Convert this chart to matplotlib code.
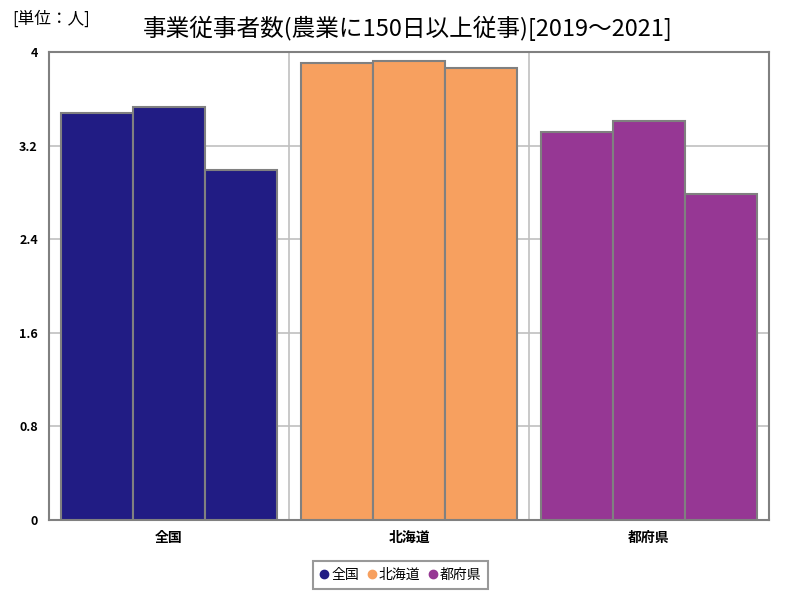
import numpy as np
import matplotlib
matplotlib.use('Agg')
import matplotlib.pyplot as plt
from matplotlib.lines import Line2D

plt.rcParams['font.family'] = ['Noto Sans CJK JP', 'DejaVu Sans']

# データ（2019, 2020, 2021）
categories = ['全国', '北海道', '都府県']
years = ['2019', '2020', '2021']
values = [
    [3.48, 3.53, 2.99],   # 全国
    [3.91, 3.92, 3.86],   # 北海道
    [3.32, 3.41, 2.79],   # 都府県
]
colors = ['#211C84', '#F7A05F', '#963794']
yticks = [0, 0.8, 1.6, 2.4, 3.2, 4]
ytick_labels = ['0', '0.8', '1.6', '2.4', '3.2', '4']

fig = plt.figure(figsize=(8, 6), dpi=100)
ax = fig.add_axes([0.06125, 0.1333, 0.9, 0.78])

bar_w = 0.3
for i, (cat, vals) in enumerate(zip(categories, values)):
    x = i + (np.arange(len(years)) - 1) * bar_w
    ax.bar(x, vals, width=bar_w, color=colors[i], edgecolor='#808080',
           linewidth=1.5, zorder=3)

ax.set_xlim(-0.5, 2.5)
ax.set_ylim(0, 4)
ax.set_yticks(yticks)
ax.set_yticklabels(ytick_labels, fontsize=9, fontweight='bold')
ax.set_xticks(range(len(categories)))
ax.set_xticklabels(categories, fontsize=10, fontweight='bold')
ax.tick_params(length=0, pad=8)

# グリッド
ax.set_xticks([0.5, 1.5], minor=True)
ax.tick_params(which='minor', length=0)
ax.grid(axis='y', color='#c0c0c0', linewidth=1.2, zorder=0)
ax.grid(axis='x', which='minor', color='#c0c0c0', linewidth=1.2, zorder=0)
for s in ax.spines.values():
    s.set_color('#808080')
    s.set_linewidth(1.5)

fig.text(0.51, 0.952, '事業従事者数(農業に150日以上従事)[2019～2021]',
         ha='center', va='center', fontsize=17)
fig.text(0.015, 0.968, '[単位：人]', ha='left', va='center', fontsize=12)

handles = [Line2D([0], [0], marker='o', color='w', markerfacecolor=c,
                  markeredgecolor=c, markersize=6) for c in colors]
leg = fig.legend(handles, categories, loc='center', bbox_to_anchor=(0.501, 0.042),
                 ncol=3, fontsize=10, frameon=True, fancybox=False,
                 handlelength=0.6, handletextpad=0.2, columnspacing=0.6,
                 borderpad=0.5)
leg.get_frame().set_edgecolor('#808080')
leg.get_frame().set_linewidth(1.5)

fig.savefig('out.png', dpi=100)
